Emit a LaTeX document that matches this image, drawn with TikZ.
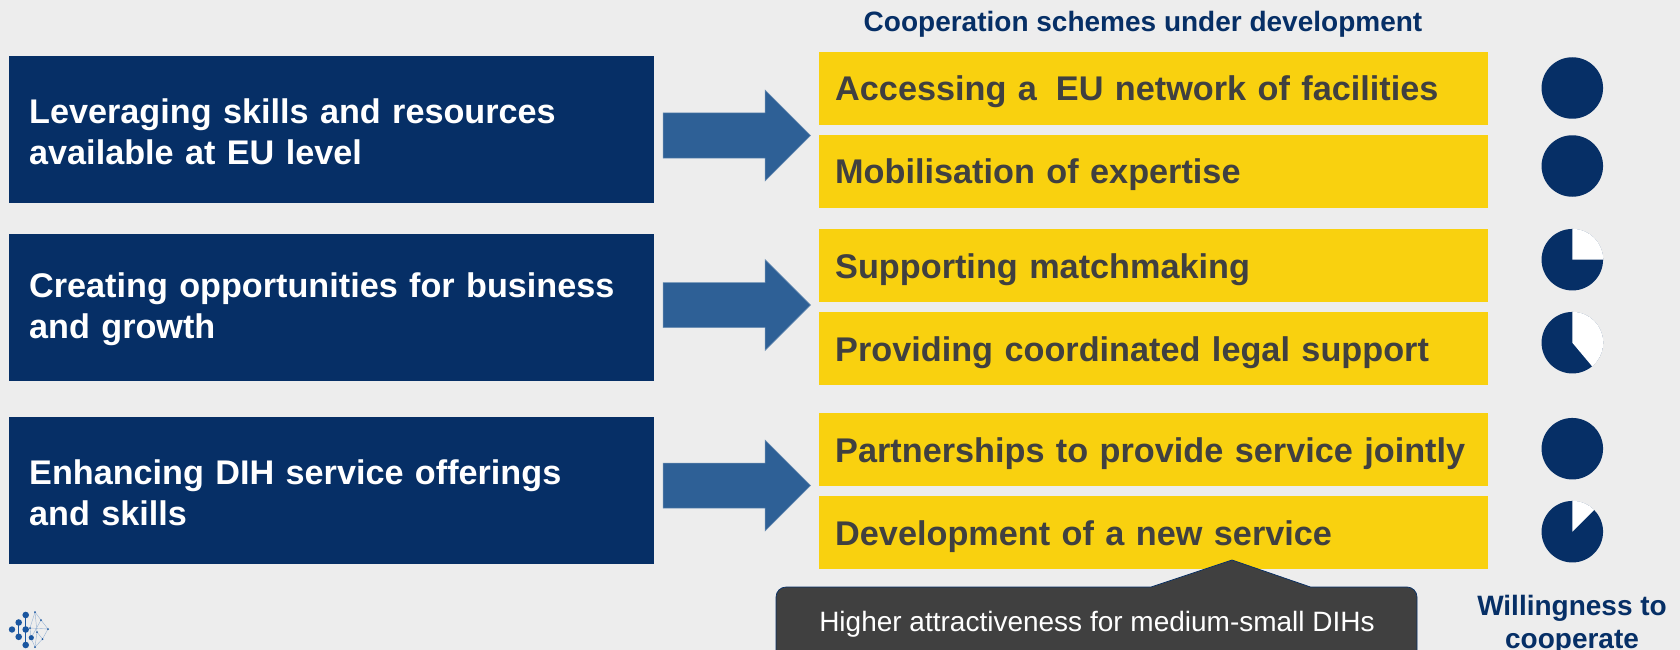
\documentclass[tikz,border=0pt]{standalone}
\usepackage{fontspec}
\setmainfont{Liberation Sans}
\definecolor{bgc}{HTML}{EDEDED}
\definecolor{navy}{HTML}{062F66}
\definecolor{arrowc}{HTML}{2E6096}
\definecolor{yell}{HTML}{F9D10F}
\definecolor{darkt}{HTML}{404040}
\definecolor{logoc}{HTML}{1A56A0}
\newcommand{\firstline}{\rule{0pt}{28.5pt}}
\tikzset{
  x=1pt,y=-1pt,
  leftbox/.style={fill=navy,text=white,inner sep=0pt,minimum width=645pt,minimum height=147pt,anchor=north west,font=\bfseries\fontsize{34.2}{41}\selectfont,align=left,text width=605pt},
  yellowbox/.style={fill=yell,text=darkt,inner sep=0pt,minimum width=669pt,minimum height=73pt,anchor=north west,font=\bfseries\fontsize{34.25}{41}\selectfont,align=left,text width=637pt,text height=#1,text depth=0pt},
  bigarrow/.style={fill=arrowc,draw=arrowc!70!white,line width=0.5pt},
  fullpie/.style={circle,fill=navy,inner sep=0pt,minimum size=61.5pt},
  piewhite/.style={fill=white},
  headtext/.style={text=navy,font=\bfseries\fontsize{28}{33}\selectfont,inner sep=0pt},
  callout/.style={fill=darkt,draw=navy,line width=0.7pt},
  logoblob/.style={fill=logoc},
  logoline/.style={draw=logoc!45!white,line width=0.4pt}
}
\begin{document}
\begin{tikzpicture}
\useasboundingbox (0,0) rectangle (1680,650);
\clip (0,0) rectangle (1680,650);
\fill[bgc] (0,0) rectangle (1680,650);

\node[headtext,anchor=base] (head) at (1143,32) {Cooperation schemes under development};

\node[leftbox] (L1) at (9,56) {\firstline Leveraging skills and resources\\available at EU level};
\node[leftbox] (L2) at (9,234) {\firstline Creating opportunities for business\\and growth};
\node[leftbox] (L3) at (9,417) {\firstline Enhancing DIH service offerings\\and skills};

\node[yellowbox=23.5pt] (Y1) at (819,52) {Accessing a\hspace{19pt}EU network of facilities};
\node[yellowbox=24pt] (Y2) at (819,135) {Mobilisation of expertise};
\node[yellowbox=26.5pt] (Y3) at (819,229) {Supporting matchmaking};
\node[yellowbox=26pt] (Y4) at (819,312) {Providing coordinated legal support};
\node[yellowbox=25.6pt] (Y5) at (819,413) {Partnerships to provide service jointly};
\node[yellowbox=25pt] (Y6) at (819,496) {Development of a new service};

\foreach \ay in {135.5,305,485.5}{
  \draw[bigarrow] (663,\ay-22.5) -- (765,\ay-22.5) -- (765,\ay-45.5) -- (810.5,\ay) -- (765,\ay+45.5) -- (765,\ay+22.5) -- (663,\ay+22.5) -- cycle;
}

\node[fullpie] (P1) at (1572.3,88) {};
\node[fullpie] (P2) at (1572.3,166) {};
\node[fullpie] (P3) at (1572.3,259.7) {};
\node[fullpie] (P4) at (1572.3,342.7) {};
\node[fullpie] (P5) at (1572.3,448.7) {};
\node[fullpie] (P6) at (1572.3,531.7) {};
\fill[piewhite] (P3.center) -- ++(0,-30.9) arc[start angle=90,end angle=0,radius=30.9pt] -- cycle;
\fill[piewhite] (P4.center) -- ++(0,-30.9) arc[start angle=90,end angle=-50,radius=30.9pt] -- cycle;
\fill[piewhite] (P6.center) -- ++(0,-30.9) arc[start angle=90,end angle=45,radius=30.9pt] -- cycle;

\draw[callout] (786,587) -- (1151,587) -- (1232,560) -- (1310.5,587) -- (1407,587)
  arc[start angle=90,end angle=0,radius=10pt] -- (1417,660) -- (776,660) -- (776,597)
  arc[start angle=180,end angle=90,radius=10pt] -- cycle;
\node[text=white,font=\fontsize{28}{33}\selectfont,inner sep=0pt,anchor=base] (note) at (1097,631) {Higher attractiveness for medium-small DIHs};
\node[headtext,anchor=base,align=center] (will) at (1572,648) {Willingness to\\cooperate};

% logo
\draw[logoline] (35,612) -- (41,620) -- (48,629) -- (42.5,639) -- (35,647) -- (31,638) -- (30,628) -- cycle;
\draw[logoline] (30,628) -- (48,629) (31,638) -- (41,620) (37,632) -- (42.5,639) (35,612) -- (37,632) -- (35,647);
\fill[logoblob] (12,629.5) circle[radius=3.2];
\fill[logoblob] (18.7,622.5) circle[radius=3.3];
\fill[logoblob] (18.7,636.8) circle[radius=3.3];
\fill[logoblob] (25.7,615) circle[radius=3.3];
\fill[logoblob] (25.7,629.5) circle[radius=3.3];
\fill[logoblob] (25.7,645) circle[radius=3.3];
\fill[logoblob] (31.3,637.7) circle[radius=2.6];
\draw[logoc,line width=1pt] (18.7,622.5) -- (18.7,636.8) (25.7,615) -- (25.7,645);
\foreach \a/\b in {35/612,41/620,48/629,42.5/639,35/647,30/628,37/632}{
  \fill[logoblob] (\a,\b) circle[radius=1];
}
\end{tikzpicture}
\end{document}
